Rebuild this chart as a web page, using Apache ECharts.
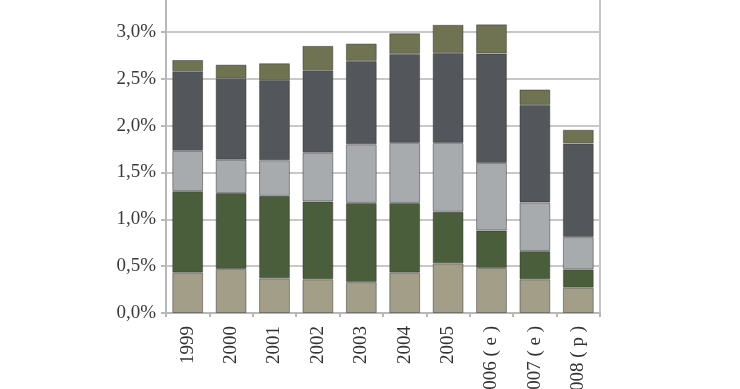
<!DOCTYPE html>
<html><head><meta charset="utf-8">
<script src="https://cdn.jsdelivr.net/npm/echarts@6/dist/echarts.min.js"></script>
<style>html,body{margin:0;padding:0;background:#fff;overflow:hidden;width:740px;height:389px;position:relative}#c{position:absolute;left:0;top:-15px;width:740px;height:404px}</style>
</head><body><div id="c"></div>
<script>
var categories = ['1999','2000','2001','2002','2003','2004','2005','2006 ( e )','2007 ( e )','2008 ( p )'];
var seriesTan   = [0.43, 0.47, 0.37, 0.36, 0.33, 0.43, 0.53, 0.48, 0.36, 0.27];
var seriesGreen = [0.87, 0.81, 0.88, 0.83, 0.845, 0.745, 0.55, 0.40, 0.30, 0.195];
var seriesLight = [0.43, 0.355, 0.38, 0.52, 0.625, 0.64, 0.735, 0.72, 0.52, 0.345];
var seriesDark  = [0.85, 0.865, 0.855, 0.88, 0.89, 0.95, 0.96, 1.17, 1.04, 1.00];
var seriesOlive = [0.12, 0.15, 0.18, 0.26, 0.185, 0.22, 0.30, 0.31, 0.165, 0.145];
var colors = ['#a29e87', '#4b5e3c', '#a8abad', '#53575b', '#6f7352'];
var allSeries = [seriesTan, seriesGreen, seriesLight, seriesDark, seriesOlive];
var font = 'Liberation Serif';
var chart = echarts.init(document.getElementById('c'));
chart.setOption({
  animation: false,
  grid: {left: 166, right: 140, top: 0, bottom: 76, outerBoundsMode: 'none', containLabel: false,
    show: true, borderColor: '#c4c4c4', borderWidth: 2, backgroundColor: 'transparent'},
  xAxis: {
    type: 'category', data: categories,
    axisLine: {lineStyle: {color: '#b8b8b8', width: 2}},
    axisTick: {show: true, length: 4, lineStyle: {color: '#b8b8b8', width: 2}},
    axisLabel: {rotate: 90, margin: 13, color: '#333', fontFamily: font, fontSize: 19}
  },
  yAxis: {
    type: 'value', min: 0, max: 3.5, interval: 0.5,
    axisLine: {show: true, lineStyle: {color: '#b8b8b8', width: 2}},
    axisTick: {show: true, length: 5, lineStyle: {color: '#b8b8b8', width: 2}},
    splitLine: {lineStyle: {color: '#c8c8c8', width: 2}},
    axisLabel: {margin: 10, color: '#3a3a3a', fontFamily: font, fontSize: 19,
      formatter: function (v) { return v.toFixed(1).replace('.', ',') + '%'; }}
  },
  series: allSeries.map(function (d, i) {
    return {type: 'bar', stack: 'a', data: d, barWidth: '71%',
      itemStyle: {color: colors[i], borderColor: 'rgba(40,40,40,0.45)', borderWidth: 1}};
  })
});
</script></body></html>
